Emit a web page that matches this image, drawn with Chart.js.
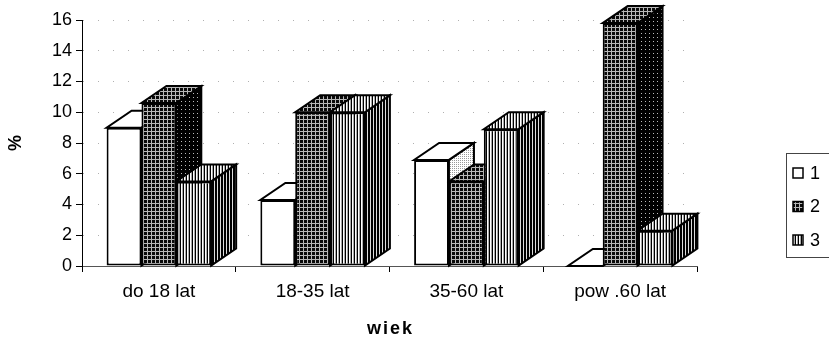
<!DOCTYPE html>
<html>
<head>
<meta charset="utf-8">
<script src="https://cdn.jsdelivr.net/npm/chart.js@4.4.0/dist/chart.umd.min.js"></script>
<style>
  html, body { margin: 0; padding: 0; background: #fff; }
  #wrap { width: 829px; height: 345px; }
</style>
</head>
<body>
<div id="wrap"><canvas id="chart" width="829" height="345"></canvas></div>
<script>
const categories = ['do 18 lat', '18-35 lat', '35-60 lat', 'pow .60 lat'];
const seriesNames = ['1', '2', '3'];
const series1 = [9.0, 4.3, 6.9, 0];
const series2 = [10.6, 10.0, 5.5, 15.8];
const series3 = [5.5, 10.0, 8.9, 2.3];
const yTitle = '%';
const xTitle = 'wiek';

// small tiles for the scanned-looking fills
function tile(w, h, draw) {
  const c = document.createElement('canvas');
  c.width = w; c.height = h;
  const g = c.getContext('2d');
  draw(g);
  return g.createPattern(c, 'repeat');
}

const gridFront = tile(4, 4, g => {
  g.fillStyle = '#0a0a0a'; g.fillRect(0, 0, 4, 4);
  g.fillStyle = '#b8b8b8'; g.fillRect(3, 0, 1, 4); g.fillRect(0, 3, 4, 1);
});
const gridSide = tile(4, 4, g => {
  g.fillStyle = '#000'; g.fillRect(0, 0, 4, 4);
  g.fillStyle = '#bbb'; g.fillRect(1, 1, 1, 1);
});
const stripeFront = tile(3, 1, g => {
  g.fillStyle = '#000'; g.fillRect(0, 0, 1, 1);
  g.fillStyle = '#fff'; g.fillRect(1, 0, 1, 1);
  g.fillStyle = '#aaa'; g.fillRect(2, 0, 1, 1);
});
const stripeSide = tile(3, 1, g => {
  g.fillStyle = '#000'; g.fillRect(0, 0, 3, 1);
  g.fillStyle = '#ddd'; g.fillRect(1, 0, 1, 1);
});
const dotSide = tile(2, 2, g => {
  g.fillStyle = '#fff'; g.fillRect(0, 0, 2, 2);
  g.fillStyle = '#999'; g.fillRect(0, 0, 1, 1);
});

const fronts = ['#fff', gridFront, stripeFront];
const tops = ['#fff', gridFront, stripeFront];
const sides = [dotSide, gridSide, stripeSide];

const DX = 25, DY = 17;

const bars3d = {
  id: 'bars3d',
  beforeDatasetsDraw(chart) {
    const ctx = chart.ctx;
    const n = chart.data.labels.length;
    ctx.save();
    ctx.lineWidth = 2;
    ctx.strokeStyle = '#000';
    for (let i = 0; i < n; i++) {
      chart.data.datasets.forEach((ds, d) => {
        const el = chart.getDatasetMeta(d).data[i];
        const p = el.getProps(['x', 'y', 'base', 'width'], true);
        const l = p.x - p.width / 2, r = p.x + p.width / 2;
        const t = p.y, b = p.base;
        // side
        ctx.beginPath();
        ctx.moveTo(r, t); ctx.lineTo(r + DX, t - DY);
        ctx.lineTo(r + DX, b - DY); ctx.lineTo(r, b); ctx.closePath();
        ctx.fillStyle = sides[d]; ctx.fill(); ctx.stroke();
        // top
        ctx.beginPath();
        ctx.moveTo(l, t); ctx.lineTo(r, t);
        ctx.lineTo(r + DX, t - DY); ctx.lineTo(l + DX, t - DY); ctx.closePath();
        ctx.fillStyle = tops[d]; ctx.fill(); ctx.stroke();
      });
    }
    ctx.restore();
  },
  afterDraw(chart) {
    const ctx = chart.ctx;
    const a = chart.chartArea;
    ctx.save();
    ctx.fillStyle = '#000';
    // axis titles
    ctx.font = 'bold 18px "Liberation Sans", Arial, sans-serif';
    ctx.textAlign = 'center';
    ctx.textBaseline = 'middle';
    ctx.letterSpacing = '2px';
    ctx.fillText(xTitle, (a.left + a.right) / 2 + 1, 329);
    ctx.letterSpacing = '0px';
    ctx.translate(16, 143);
    ctx.rotate(-Math.PI / 2);
    ctx.fillText(yTitle, 0, 0);
    ctx.restore();

    // legend
    ctx.save();
    ctx.strokeStyle = '#444';
    ctx.lineWidth = 1;
    ctx.strokeRect(786.5, 153.5, 80, 104);
    ctx.font = '18px "Liberation Sans", Arial, sans-serif';
    ctx.textBaseline = 'middle';
    ctx.textAlign = 'left';
    ctx.strokeStyle = '#000';
    seriesNames.forEach((name, k) => {
      const cy = 173 + k * 33.5;
      ctx.fillStyle = fronts[k];
      ctx.fillRect(793, cy - 5, 10, 10);
      ctx.lineWidth = 1.5;
      ctx.strokeRect(793, cy - 5, 10, 10);
      ctx.fillStyle = '#000';
      ctx.fillText(name, 810, cy + 1);
    });
    ctx.restore();
  }
};

const allSeries = [series1, series2, series3];

new Chart(document.getElementById('chart'), {
  type: 'bar',
  data: {
    labels: categories,
    datasets: allSeries.map((vals, k) => ({
      label: seriesNames[k],
      data: vals,
      backgroundColor: fronts[k],
      borderColor: '#000',
      borderWidth: 2,
      borderSkipped: false,
      categoryPercentage: 0.68,
      barPercentage: 1.0
    }))
  },
  options: {
    responsive: false,
    animation: false,
    layout: { padding: { top: 20, right: 132, left: 0, bottom: 0 } },
    plugins: {
      legend: { display: false },
      tooltip: { enabled: false }
    },
    scales: {
      x: {
        afterFit(s) { s.height = 79; },
        grid: { offset: true, drawOnChartArea: false, tickLength: 6, tickColor: '#000', tickWidth: 1 },
        border: { color: '#555', width: 1 },
        ticks: {
          color: '#000',
          padding: 8,
          font: { family: '"Liberation Sans", Arial, sans-serif', size: 19 }
        }
      },
      y: {
        min: 0,
        max: 16,
        afterFit(s) { s.width = 82; },
        grid: { color: '#b0b0b0', tickLength: 6, tickColor: '#000', tickWidth: 1 },
        border: { color: '#000', width: 1, dash: [1, 14] },
        ticks: {
          stepSize: 2,
          color: '#000',
          padding: 4,
          font: { family: '"Liberation Sans", Arial, sans-serif', size: 18 }
        }
      }
    }
  },
  plugins: [bars3d]
});
</script>
</body>
</html>
